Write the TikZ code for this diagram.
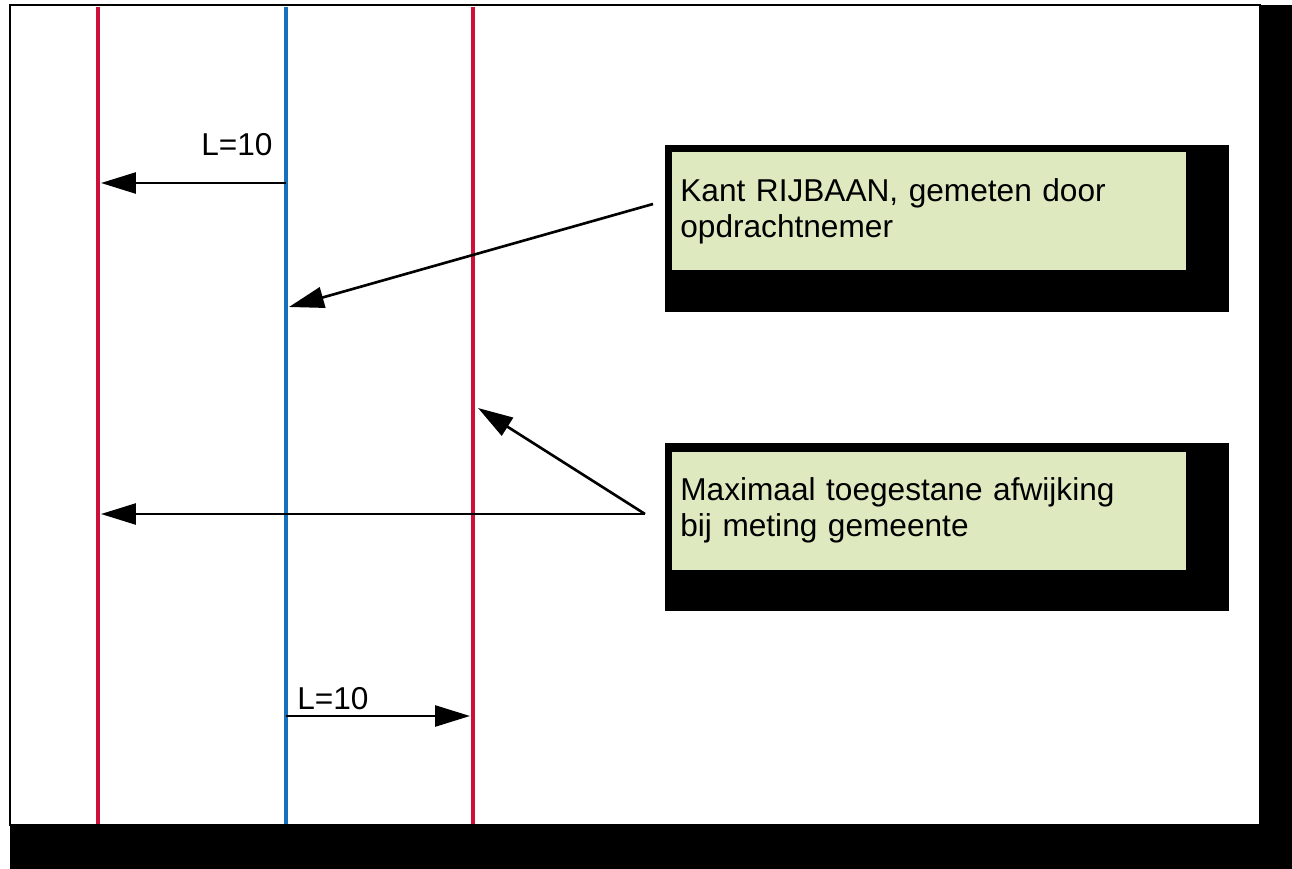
\documentclass[tikz,border=0pt]{standalone}
\usepackage{fontspec}
\setmainfont{Liberation Sans}
\usetikzlibrary{arrows.meta}
\definecolor{rood}{RGB}{204,16,56}
\definecolor{blauw}{RGB}{22,112,188}
\definecolor{lichtgroen}{RGB}{223,233,192}

\begin{document}
\begin{tikzpicture}[x=0.02cm,y=-0.02cm,
    pijl/.style={-{Triangle[length=0.7cm,width=0.42cm]},line width=1.5pt},
    lijn/.style={line width=2pt},
    vak/.style={fill=lichtgroen,anchor=north west,inner sep=0pt,minimum width=10.28cm,minimum height=2.35cm},
    tekst/.style={anchor=base west,inner sep=0pt,align=left,text width=11cm,font=\fontsize{18}{20.5}\selectfont},
    maat/.style={anchor=base west,inner sep=0pt,font=\fontsize{18}{20.5}\selectfont}]
  \useasboundingbox (0,0) rectangle (1292,869);
  % kader met schaduw
  \fill (10,5) rectangle (1292,869);
  \draw[fill=white,line width=0.8pt] (10,5) rectangle (1260,825);

  % lijnen
  \draw[lijn,rood] (98,7) -- (98,824);
  \draw[lijn,blauw] (286,7) -- (286,824);
  \draw[lijn,rood] (473,7) -- (473,824);

  % tekstvakken
  \fill (665,145) rectangle (1229,312);
  \node[vak] (kantvak) at (672,152) {};
  \node[tekst] (kant) at (680,201) {Kant RIJBAAN, gemeten door\\opdrachtnemer};
  \fill (665,443) rectangle (1229,611);
  \node[vak] (maxvak) at (672,452) {};
  \node[tekst] (max) at (680,500) {Maximaal toegestane afwijking\\bij meting gemeente};

  % maten
  \node[maat] (maatboven) at (201,155) {L=10};
  \node[maat] (maatonder) at (297,709) {L=10};

  % pijlen
  \coordinate (b1) at (286,183);
  \coordinate (r1) at (101,183);
  \coordinate (k1) at (653,204);
  \coordinate (bl) at (289,307);
  \coordinate (m1) at (645,514);
  \coordinate (r2) at (478,408);
  \coordinate (r3) at (101,514);
  \coordinate (b2) at (286,716);
  \coordinate (r4) at (470,716);
  \draw[pijl] (b1) -- (r1);
  \draw[pijl] (k1) -- (bl);
  \draw[pijl] (m1) -- (r2);
  \draw[pijl] (m1) -- (r3);
  \draw[pijl] (b2) -- (r4);
\end{tikzpicture}
\end{document}
